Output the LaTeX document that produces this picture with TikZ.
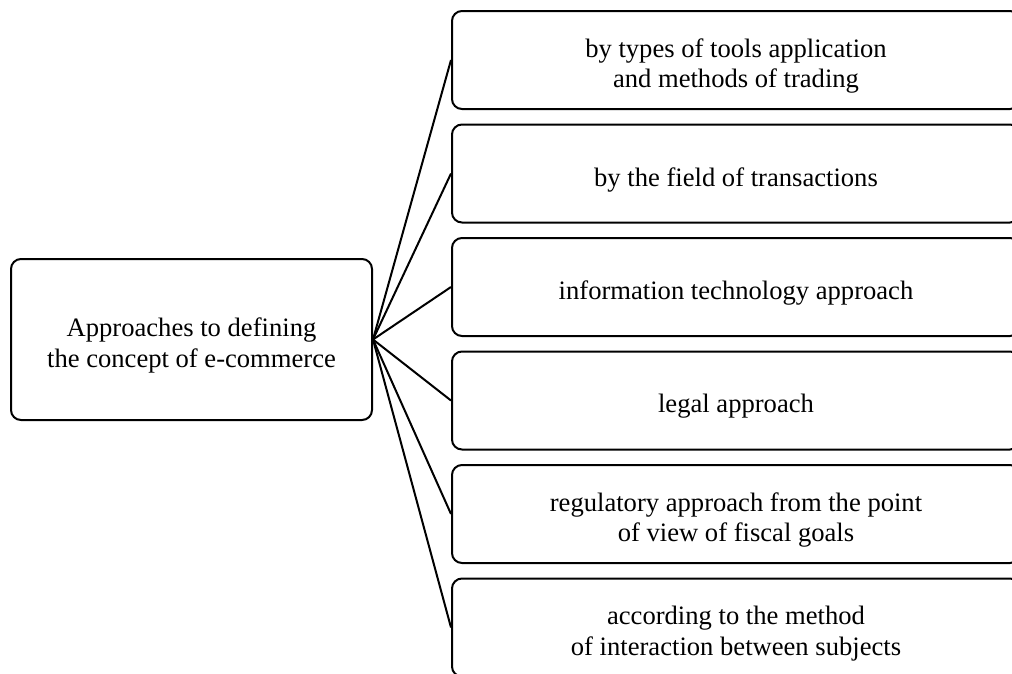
\documentclass[tikz,border=0pt]{standalone}
\usepackage{fontspec}
\setmainfont{Liberation Serif}
\begin{document}
\begin{tikzpicture}[x=1pt,y=-1pt,
  box/.style={draw, line width=2pt, rounded corners=10pt, inner sep=0pt},
  leftbox/.style={box, minimum width=361pt, minimum height=161pt},
  rightbox/.style={box, minimum width=568pt, minimum height=98pt},
  txt/.style={align=center, inner sep=0pt, font=\fontsize{26.6}{30.5}\selectfont},
  conn/.style={line width=2pt}]
\useasboundingbox (0,0) rectangle (1012,673);
\clip (0,0) rectangle (1012,673);
\node[leftbox] (L) at (191.5,339.5) {};
\node[rightbox] (R1) at (736,60) {};
\node[rightbox] (R2) at (736,173.5) {};
\node[rightbox] (R3) at (736,287) {};
\node[rightbox] (R4) at (736,400.5) {};
\node[rightbox] (R5) at (736,514) {};
\node[rightbox] (R6) at (736,627.5) {};
\node[txt] (Lt) at ([yshift=-6pt]L.center) {Approaches to defining\\the concept of e-commerce};
\node[txt] (R1t) at ([yshift=-6pt]R1.center) {by types of tools application\\and methods of trading};
\node[txt] (R2t) at ([yshift=-6pt]R2.center) {by the field of transactions};
\node[txt] (R3t) at ([yshift=-6pt]R3.center) {information technology approach};
\node[txt] (R4t) at ([yshift=-6pt]R4.center) {legal approach};
\node[txt] (R5t) at ([yshift=-6pt]R5.center) {regulatory approach from the point\\of view of fiscal goals};
\node[txt] (R6t) at ([yshift=-6pt]R6.center) {according to the method\\of interaction between subjects};
\foreach \r in {R1,R2,R3,R4,R5,R6}
  \draw[conn] (L.east) -- (\r.west);
\end{tikzpicture}
\end{document}
